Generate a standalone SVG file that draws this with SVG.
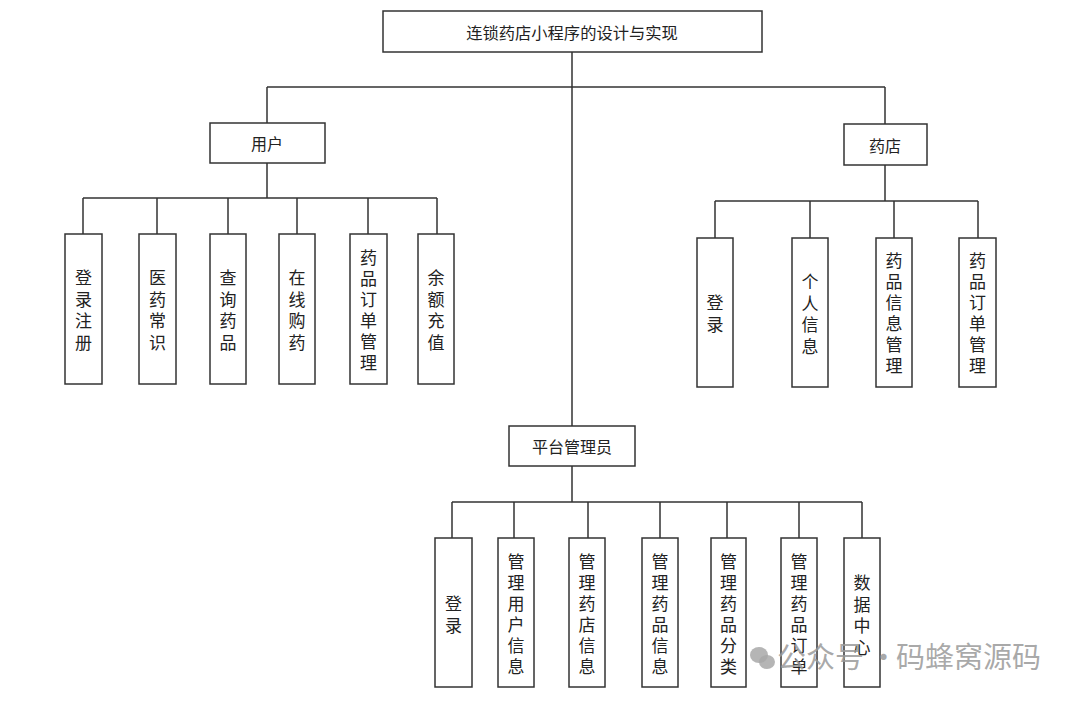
<svg xmlns="http://www.w3.org/2000/svg" width="1080" height="701" viewBox="0 0 1080 701">
<style>
.box{fill:#fff;stroke:#333;stroke-width:1.5}
.ln{fill:none;stroke:#333;stroke-width:1.5}
.t{font-family:"Noto Sans CJK SC","Noto Sans",sans-serif;font-size:16px;fill:#222;text-anchor:middle;dominant-baseline:central}
.v{font-family:"Noto Sans CJK SC","Noto Sans",sans-serif;font-size:17px;fill:#222;text-anchor:middle}
.wm{font-family:"Noto Sans CJK SC","Noto Sans",sans-serif;font-size:29px;fill:#9a9a9a;fill-opacity:0.85}
</style>
<rect width="1080" height="701" fill="#fff"/>
<g id="connectors">
<path class="ln" d="M572 52V430M267 87H885M267 87V123M885 87V124"/>
<path class="ln" d="M267 163V198M83 198H437M83 198V234M157 198V234M228 198V234M297 198V234M368 198V234M437 198V234"/>
<path class="ln" d="M885 165V201M715 201H978M715 201V238M810 201V238M894 201V238M978 201V238"/>
<path class="ln" d="M572 466V502M452 502H862M452 502V538M514 502V538M588 502V538M660 502V538M727 502V538M799 502V538M862 502V538"/>
</g>
<g id="root"><rect class="box" x="383" y="11" width="379" height="41"/><text class="t" x="572" y="32" style="font-size:16.3px">连锁药店小程序的设计与实现</text></g>
<g id="user"><rect class="box" x="210" y="123" width="115" height="40"/><text class="t" x="267" y="143">用户</text></g>
<g id="store"><rect class="box" x="844" y="124" width="83" height="41"/><text class="t" x="885" y="145">药店</text></g>
<g id="admin"><rect class="box" x="509" y="426" width="126" height="40"/><text class="t" x="572" y="446">平台管理员</text></g>

<g id="u1"><rect class="box" x="65" y="234" width="37" height="150"/><text class="v"><tspan x="83.5" y="284">登</tspan><tspan x="83.5" dy="21.5">录</tspan><tspan x="83.5" dy="21.5">注</tspan><tspan x="83.5" dy="21.5">册</tspan></text></g>
<g id="u2"><rect class="box" x="139" y="234" width="37" height="150"/><text class="v"><tspan x="157.5" y="284">医</tspan><tspan x="157.5" dy="21.5">药</tspan><tspan x="157.5" dy="21.5">常</tspan><tspan x="157.5" dy="21.5">识</tspan></text></g>
<g id="u3"><rect class="box" x="210" y="234" width="36" height="150"/><text class="v"><tspan x="228" y="284">查</tspan><tspan x="228" dy="21.5">询</tspan><tspan x="228" dy="21.5">药</tspan><tspan x="228" dy="21.5">品</tspan></text></g>
<g id="u4"><rect class="box" x="279" y="234" width="36" height="150"/><text class="v"><tspan x="297" y="284">在</tspan><tspan x="297" dy="21.5">线</tspan><tspan x="297" dy="21.5">购</tspan><tspan x="297" dy="21.5">药</tspan></text></g>
<g id="u5"><rect class="box" x="350" y="234" width="37" height="150"/><text class="v"><tspan x="368.5" y="264">药</tspan><tspan x="368.5" dy="21">品</tspan><tspan x="368.5" dy="21">订</tspan><tspan x="368.5" dy="21">单</tspan><tspan x="368.5" dy="21">管</tspan><tspan x="368.5" dy="21">理</tspan></text></g>
<g id="u6"><rect class="box" x="418" y="234" width="36" height="150"/><text class="v"><tspan x="436" y="284">余</tspan><tspan x="436" dy="21.5">额</tspan><tspan x="436" dy="21.5">充</tspan><tspan x="436" dy="21.5">值</tspan></text></g>

<g id="s1"><rect class="box" x="697" y="238" width="36" height="149"/><text class="v"><tspan x="715" y="309">登</tspan><tspan x="715" dy="21.5">录</tspan></text></g>
<g id="s2"><rect class="box" x="792" y="238" width="36" height="149"/><text class="v"><tspan x="810" y="288">个</tspan><tspan x="810" dy="21.5">人</tspan><tspan x="810" dy="21.5">信</tspan><tspan x="810" dy="21.5">息</tspan></text></g>
<g id="s3"><rect class="box" x="876" y="238" width="36" height="149"/><text class="v"><tspan x="894" y="267">药</tspan><tspan x="894" dy="21">品</tspan><tspan x="894" dy="21">信</tspan><tspan x="894" dy="21">息</tspan><tspan x="894" dy="21">管</tspan><tspan x="894" dy="21">理</tspan></text></g>
<g id="s4"><rect class="box" x="959" y="238" width="37" height="149"/><text class="v"><tspan x="977.5" y="267">药</tspan><tspan x="977.5" dy="21">品</tspan><tspan x="977.5" dy="21">订</tspan><tspan x="977.5" dy="21">单</tspan><tspan x="977.5" dy="21">管</tspan><tspan x="977.5" dy="21">理</tspan></text></g>

<g id="a1"><rect class="box" x="435" y="538" width="37" height="149"/><text class="v"><tspan x="453.5" y="610">登</tspan><tspan x="453.5" dy="21.5">录</tspan></text></g>
<g id="a2"><rect class="box" x="498" y="538" width="36" height="149"/><text class="v"><tspan x="516" y="568">管</tspan><tspan x="516" dy="21">理</tspan><tspan x="516" dy="21">用</tspan><tspan x="516" dy="21">户</tspan><tspan x="516" dy="21">信</tspan><tspan x="516" dy="21">息</tspan></text></g>
<g id="a3"><rect class="box" x="569" y="538" width="36" height="149"/><text class="v"><tspan x="587" y="568">管</tspan><tspan x="587" dy="21">理</tspan><tspan x="587" dy="21">药</tspan><tspan x="587" dy="21">店</tspan><tspan x="587" dy="21">信</tspan><tspan x="587" dy="21">息</tspan></text></g>
<g id="a4"><rect class="box" x="642" y="538" width="36" height="149"/><text class="v"><tspan x="660" y="568">管</tspan><tspan x="660" dy="21">理</tspan><tspan x="660" dy="21">药</tspan><tspan x="660" dy="21">品</tspan><tspan x="660" dy="21">信</tspan><tspan x="660" dy="21">息</tspan></text></g>
<g id="a5"><rect class="box" x="711" y="538" width="35" height="149"/><text class="v"><tspan x="728.5" y="568">管</tspan><tspan x="728.5" dy="21">理</tspan><tspan x="728.5" dy="21">药</tspan><tspan x="728.5" dy="21">品</tspan><tspan x="728.5" dy="21">分</tspan><tspan x="728.5" dy="21">类</tspan></text></g>
<g id="a6"><rect class="box" x="781" y="538" width="36" height="149"/><text class="v"><tspan x="799" y="568">管</tspan><tspan x="799" dy="21">理</tspan><tspan x="799" dy="21">药</tspan><tspan x="799" dy="21">品</tspan><tspan x="799" dy="21">订</tspan><tspan x="799" dy="21">单</tspan></text></g>
<g id="a7"><rect class="box" x="844" y="538" width="36" height="149"/><text class="v"><tspan x="862" y="589">数</tspan><tspan x="862" dy="21.5">据</tspan><tspan x="862" dy="21.5">中</tspan><tspan x="862" dy="21.5">心</tspan></text></g>

<g id="watermark" fill="#a8a8a8" fill-opacity="0.85">
<ellipse cx="759" cy="655" rx="9" ry="8"/>
<ellipse cx="767" cy="662" rx="8" ry="7"/>
<text class="wm" y="668"><tspan x="777">公众号</tspan><tspan x="869">·</tspan><tspan x="896">码蜂窝源码</tspan></text>
</g>
</svg>
